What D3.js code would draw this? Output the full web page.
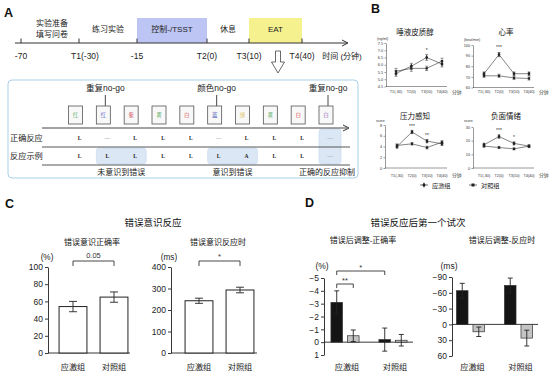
<!DOCTYPE html>
<html><head><meta charset="utf-8">
<script src="https://cdn.jsdelivr.net/npm/d3@7"></script>
<style>
body{margin:0;background:#fff;}
svg{font-family:"Liberation Sans","Noto Sans CJK SC",sans-serif;}
</style></head><body>
<svg id="c" width="554" height="383"></svg>
<script>
// ================= DATA =================
// Panel A: timeline
const timeValues = [-70, -30, -15, 0, 10, 40];
const timeLabels = ["-70", "T1(-30)", "-15", "T2(0)", "T3(10)", "T4(40)"];
const phaseLabels = [["实验准备", "填写问卷"], ["练习实验"], ["控制-/TSST"], ["休息"], ["EAT"]];
const phaseStart = [-70, -30, -15, 0, 10];
const phaseEnd = [-30, -15, 0, 10, 40];
const phaseFill = ["none", "none", "#bcc5f3", "none", "#f5f18f"];
// Panel A: trial sequence
const stimWords = ["红", "红", "紫", "黄", "白", "蓝", "绿", "黄", "白", "白"];
const stimColors = ["#3f9f4f", "#3a3fc4", "#cc2b3a", "#3f9f4f", "#d9363e", "#2d3aa8", "#d8b43a", "#3f9f4f", "#d9363e", "#8256b8"];
const correctResp = ["L", "—", "L", "L", "L", "—", "L", "L", "L", "—"];
const exampleResp = ["L", "L", "L", "L", "L", "L", "A", "L", "L", "—"];
const nogoIndex = [1, 5, 9];
const nogoText = ["重复no-go", "颜色no-go", "重复no-go"];
const hlStart = [1, 5, 9];
const hlEnd = [2, 6, 9];
const hlBothRows = [false, false, true];
const hlCaptions = ["未意识到错误", "意识到错误", "正确的反应抑制"];
const rowLabels = ["正确反应", "反应示例"];

// Panel B
const bTimes = ["T1(-30)", "T2(0)", "T3(10)", "T4(40)"];
const cortStress = [5.4, 5.9, 6.5, 6.05];
const cortStressErr = [0.2, 0.2, 0.2, 0.2];
const cortControl = [5.55, 5.75, 5.75, 6.25];
const cortControlErr = [0.2, 0.2, 0.15, 0.2];
const hrStress = [73, 91, 73, 73];
const hrStressErr = [1.5, 2, 1.5, 1.5];
const hrControl = [71, 71, 69, 68.5];
const hrControlErr = [1.5, 1.5, 1.5, 1.5];
const pressStress = [4.0, 6.7, 5.0, 4.5];
const pressStressErr = [0.3, 0.25, 0.3, 0.3];
const pressControl = [4.2, 4.5, 3.8, 4.8];
const pressControlErr = [0.3, 0.25, 0.25, 0.3];
const negStress = [17, 23, 18, 16];
const negStressErr = [1, 1.2, 1, 0.8];
const negControl = [16, 15, 14, 16];
const negControlErr = [0.8, 0.8, 0.8, 0.8];
const sigCort = ["", "", "*", ""];
const sigHr = ["", "***", "", ""];
const sigPress = ["", "***", "**", ""];
const sigNeg = ["", "***", "*", ""];
const legendLabels = ["应激组", "对照组"];

// Panel C
const groups = ["应激组", "对照组"];
const errAwareAcc = [54, 65];
const errAwareAccErr = [6, 6];
const errAwareRt = [243, 293];
const errAwareRtErr = [12, 13];

// Panel D
const adjAccBlack = [-3.1, -0.2];
const adjAccBlackErr = [0.9, 0.9];
const adjAccGray = [-0.5, -0.15];
const adjAccGrayErr = [0.45, 0.45];
const adjRtBlack = [-64, -74];
const adjRtBlackErr = [14, 14];
const adjRtGray = [14, 26];
const adjRtGrayErr = [9, 15];

// ================= DRAW =================
const svg = d3.select('#c');
function txt(x, y, s, size, o = {}) {
  return svg.append('text').attr('x', x).attr('y', y).text(s).attr('font-size', size)
    .attr('text-anchor', o.anchor || 'middle').attr('dominant-baseline', o.base || 'central')
    .attr('fill', o.fill || '#222').attr('font-weight', o.weight || 'normal')
    .attr('font-family', o.family || null);
}
function line(x1, y1, x2, y2, st = '#333', w = 1) {
  return svg.append('line').attr('x1', x1).attr('y1', y1).attr('x2', x2).attr('y2', y2)
    .attr('stroke', st).attr('stroke-width', w);
}
function arrowHead(x, y) {
  svg.append('path').attr('d', `M${x - 6},${y - 3}L${x},${y}L${x - 6},${y + 3}`)
    .attr('fill', 'none').attr('stroke', '#333').attr('stroke-width', 1);
}

// panel letters
txt(4, 17, 'A', 12.5, { anchor: 'start', base: 'auto', weight: 'bold', fill: '#111' });
txt(371, 13, 'B', 12.5, { anchor: 'start', base: 'auto', weight: 'bold', fill: '#111' });
txt(5, 208, 'C', 12.5, { anchor: 'start', base: 'auto', weight: 'bold', fill: '#111' });
txt(305, 207, 'D', 12.5, { anchor: 'start', base: 'auto', weight: 'bold', fill: '#111' });

// ---- A timeline ----
const tx = d3.scaleLinear().domain(timeValues).range([21, 79, 137, 207, 249, 302]);
phaseStart.forEach((s, i) => {
  const x0 = tx(s), x1 = tx(phaseEnd[i]);
  if (phaseFill[i] !== 'none') {
    svg.append('rect').attr('x', x0).attr('y', 18).attr('width', x1 - x0).attr('height', 25)
      .attr('fill', phaseFill[i]);
  }
  const lab = phaseLabels[i];
  const cx = (x0 + x1) / 2 + (i === 0 ? 2 : 0);
  if (lab.length === 2) {
    txt(cx, 23, lab[0], 8); txt(cx, 34, lab[1], 8);
  } else txt(cx, 29.5, lab[0], 8);
});
line(15, 43, 347, 43, '#333', 1);
arrowHead(348, 43);
timeValues.forEach((v, i) => {
  line(tx(v), 38.5, tx(v), 43, '#333', 1);
  txt(tx(v) + (i === 1 ? 6 : 0), 56, timeLabels[i], 8.5);
});
txt(342, 56, '时间 (分钟)', 8);
// hollow down arrow
svg.append('path').attr('d', 'M275.5,51L280.5,51L280.5,62L284.5,62L278,73L271.5,62L275.5,62Z')
  .attr('fill', '#fff').attr('stroke', '#444').attr('stroke-width', 0.8);

// ---- A trial box ----
svg.append('rect').attr('x', 8).attr('y', 80).attr('width', 350).attr('height', 98).attr('rx', 4)
  .attr('fill', 'none').attr('stroke', '#a9d0e6').attr('stroke-width', 1);
const colX = d3.scalePoint().domain(d3.range(stimWords.length)).range([75.5, 326]);
const respX = i => colX(i) + 4;
// highlights
hlStart.forEach((s, k) => {
  const x0 = respX(s) - 11, x1 = respX(hlEnd[k]) + 11;
  const y0 = hlBothRows[k] ? 129 : 148;
  svg.append('rect').attr('x', x0).attr('y', y0).attr('width', x1 - x0).attr('height', 164 - y0)
    .attr('rx', 3).attr('fill', '#dbe7f4').attr('stroke', '#c4d9ee').attr('stroke-width', 0.6);
  txt((x0 + x1) / 2 - (k === 2 ? 3 : 0), 172, hlCaptions[k], 8);
});
nogoIndex.forEach((i, k) => {
  txt(colX(i) + 2, 87.5, nogoText[k], 8.5);
  line(colX(i) + 2, 95, colX(i) + 2, 106, '#333', 0.9);
});
stimWords.forEach((w, i) => {
  svg.append('rect').attr('x', colX(i) - 7).attr('y', 106).attr('width', 14).attr('height', 18)
    .attr('fill', '#f8f8f8').attr('stroke', '#555').attr('stroke-width', 0.8);
  txt(colX(i), 115, w, 5.5, { fill: stimColors[i], family: '"Noto Serif CJK SC","Noto Sans CJK SC",serif' });
});
line(42, 128, 347, 128, '#444', 1);
arrowHead(349, 128);
txt(10, 138, rowLabels[0], 8.2, { anchor: 'start' });
txt(10, 156, rowLabels[1], 8.2, { anchor: 'start' });
correctResp.forEach((r, i) => txt(respX(i), 138, r, 5.5,
  { fill: r === 'L' ? '#222' : '#aaa', weight: 'bold', family: '"Liberation Serif",serif' }));
exampleResp.forEach((r, i) => txt(respX(i), 156, r, 5.5,
  { fill: r === '—' ? '#aaa' : '#222', weight: 'bold', family: '"Liberation Serif",serif' }));
line(42, 147, 350, 147, '#444', 0.9);
line(42, 165, 350, 165, '#444', 0.9);

// ---- B line plots ----
const bPanels = [
  { title: '唾液皮质醇', unit: '(ng/ml)', s: cortStress, se: cortStressErr, c: cortControl, ce: cortControlErr,
    dom: [4.5, 7.5], ticks: [4.5, 5, 5.5, 6, 6.5, 7, 7.5], fmt: d3.format('.1f'), sig: sigCort,
    ax: 386, top: 43, bot: 86.5, x0: 396, x1: 442, tX: 415, tY: 32, uY: 38.5, lY: 92 },
  { title: '心率', unit: '(beat/min)', s: hrStress, se: hrStressErr, c: hrControl, ce: hrControlErr,
    dom: [60, 100], ticks: [60, 70, 80, 90, 100], fmt: d3.format('d'), sig: sigHr,
    ax: 473, top: 45, bot: 87.5, x0: 484, x1: 529, tX: 506, tY: 32, uY: 39.5, lY: 92 },
  { title: '压力感知', unit: 'score', s: pressStress, se: pressStressErr, c: pressControl, ce: pressControlErr,
    dom: [0, 8], ticks: [0, 2, 4, 6, 8], fmt: d3.format('d'), sig: sigPress,
    ax: 385, top: 125, bot: 168, x0: 397, x1: 442, tX: 415, tY: 116, uY: 121, lY: 175.5 },
  { title: '负面情绪', unit: 'score', s: negStress, se: negStressErr, c: negControl, ce: negControlErr,
    dom: [0, 30], ticks: [0, 10, 20, 30], fmt: d3.format('d'), sig: sigNeg,
    ax: 473, top: 127, bot: 168, x0: 484, x1: 529, tX: 506, tY: 116, uY: 121, lY: 175.5 }
];
const symStress = d3.symbol().type(d3.symbolDiamond).size(7);
const symControl = d3.symbol().type(d3.symbolSquare).size(5);
bPanels.forEach(p => {
  const y = d3.scaleLinear().domain(p.dom).range([p.bot, p.top]);
  const x = d3.scalePoint().domain(bTimes).range([p.x0, p.x1]);
  txt(p.tX, p.tY, p.title, 7.5, { fill: '#111' });
  txt(p.ax - 9, p.uY, p.unit, 3.6, { anchor: 'start', fill: '#333' });
  const ya = svg.append('g').attr('transform', `translate(${p.ax},0)`)
    .call(d3.axisLeft(y).tickValues(p.ticks).tickFormat(p.fmt).tickSize(1.5).tickSizeOuter(0).tickPadding(1.5));
  ya.selectAll('path,line').attr('stroke', '#333').attr('stroke-width', 0.5);
  ya.selectAll('text').attr('font-size', 3.8).attr('fill', '#333');
  line(p.ax, p.bot, p.x1 + 5, p.bot, '#333', 0.5);
  bTimes.forEach(t => txt(x(t), p.lY, t, 3.8, { fill: '#333' }));
  txt(p.x1 + 10, p.lY, '分钟', 4.8, { anchor: 'start', fill: '#333' });
  [[p.c, p.ce, symControl], [p.s, p.se, symStress]].forEach(([vals, errs, sym]) => {
    svg.append('path').datum(vals)
      .attr('d', d3.line().x((d, i) => x(bTimes[i])).y(d => y(d)))
      .attr('fill', 'none').attr('stroke', '#333').attr('stroke-width', 0.6);
    vals.forEach((v, i) => {
      const cx = x(bTimes[i]);
      line(cx, y(v - errs[i]), cx, y(v + errs[i]), '#333', 0.5);
      line(cx - 1.5, y(v - errs[i]), cx + 1.5, y(v - errs[i]), '#333', 0.5);
      line(cx - 1.5, y(v + errs[i]), cx + 1.5, y(v + errs[i]), '#333', 0.5);
      svg.append('path').attr('d', sym()).attr('transform', `translate(${cx},${y(v)})`).attr('fill', '#222');
    });
  });
  p.sig.forEach((s, i) => {
    if (!s) return;
    const top = Math.max(p.s[i] + p.se[i], p.c[i] + p.ce[i]);
    txt(x(bTimes[i]), y(top) - 5, s, 5, { fill: '#333' });
  });
});
// legend
[[symStress, 424, legendLabels[0]], [symControl, 473, legendLabels[1]]].forEach(([sym, lx, lab]) => {
  line(lx - 4, 185, lx + 4, 185, '#333', 0.7);
  svg.append('path').attr('d', sym.size(9)()).attr('transform', `translate(${lx},185)`).attr('fill', '#222');
  txt(lx + 8, 185, lab, 6.2, { anchor: 'start', fill: '#222' });
});

// ---- helpers for bar charts ----
function yAxis(y, ax, ticks, fmt) {
  const g = svg.append('g').attr('transform', `translate(${ax},0)`)
    .call(d3.axisLeft(y).tickValues(ticks).tickFormat(fmt || d3.format('d')).tickSize(3).tickSizeOuter(0).tickPadding(2));
  g.selectAll('path,line').attr('stroke', '#222').attr('stroke-width', 0.9);
  g.selectAll('text').attr('font-size', 8.5).attr('fill', '#222');
  return g;
}
function errBar(cx, yLo, yHi, cap, col = '#222') {
  line(cx, yLo, cx, yHi, col, 0.9);
  line(cx - cap, yLo, cx + cap, yLo, col, 0.9);
  line(cx - cap, yHi, cx + cap, yHi, col, 0.9);
}
function bracket(x0, x1, yb, h, label, ly) {
  svg.append('path').attr('d', `M${x0},${yb + h}L${x0},${yb}L${x1},${yb}L${x1},${yb + h}`)
    .attr('fill', 'none').attr('stroke', '#333').attr('stroke-width', 0.9);
  txt((x0 + x1) / 2, ly, label, 7.5, { fill: '#333' });
}

// ---- C ----
txt(153, 222, '错误意识反应', 9.5, { fill: '#111' });
const cPanels = [
  { title: '错误意识正确率', vals: errAwareAcc, errs: errAwareAccErr, dom: [0, 100], ticks: [0, 20, 40, 60, 80, 100],
    ax: 48, axEnd: 130, band: [52.5, 134.5], unit: '(%)', uX: 47, sig: '0.05', tX: 92 },
  { title: '错误意识反应时', vals: errAwareRt, errs: errAwareRtErr, dom: [0, 400], ticks: [0, 100, 200, 300, 400],
    ax: 171, axEnd: 257, band: [178.5, 260.5], unit: '(ms)', uX: 169, sig: '*', tX: 218 }
];
cPanels.forEach(p => {
  const y = d3.scaleLinear().domain(p.dom).range([353, 267]);
  const x = d3.scaleBand().domain(groups).range(p.band).paddingInner(0.32).paddingOuter(0.16);
  txt(p.tX, 242, p.title, 8, { fill: '#111' });
  txt(p.uX, 257, p.unit, 8.2);
  yAxis(y, p.ax, p.ticks);
  line(p.ax, 353, p.axEnd, 353, '#222', 0.9);
  groups.forEach((g, i) => {
    svg.append('rect').attr('x', x(g)).attr('y', y(p.vals[i])).attr('width', x.bandwidth())
      .attr('height', y(0) - y(p.vals[i])).attr('fill', '#fff').attr('stroke', '#222').attr('stroke-width', 1);
    const cx = x(g) + x.bandwidth() / 2;
    errBar(cx, y(p.vals[i] - p.errs[i]), y(p.vals[i] + p.errs[i]), 4);
    txt(cx, 367, g, 8.2);
  });
  const c0 = x(groups[0]) + x.bandwidth() / 2, c1 = x(groups[1]) + x.bandwidth() / 2;
  bracket(c0, c1, 261, 5, p.sig, p.sig === '*' ? 256 : 255);
});

// ---- D ----
txt(418, 222, '错误反应后第一个试次', 9.5, { fill: '#111' });
const dPanels = [
  { title: '错误后调整-正确率', black: adjAccBlack, blackErr: adjAccBlackErr, gray: adjAccGray, grayErr: adjAccGrayErr,
    dom: [-5, 1], range: [278, 355], ticks: [-5, -4, -3, -2, -1, 0, 1], ax: 324, axEnd: 413,
    band: [321, 417], unit: '(%)', uX: 322, tX: 363 },
  { title: '错误后调整-反应时', black: adjRtBlack, blackErr: adjRtBlackErr, gray: adjRtGray, grayErr: adjRtGrayErr,
    dom: [-90, 60], range: [277, 356], ticks: [-90, -60, -30, 0, 30, 60], ax: 452, axEnd: 538,
    band: [446.5, 542.5], unit: '(ms)', uX: 449, tX: 502 }
];
const subKeys = ['black', 'gray'];
dPanels.forEach((p, pi) => {
  const y = d3.scaleLinear().domain(p.dom).range(p.range);
  const x = d3.scaleBand().domain(groups).range(p.band);
  const xi = d3.scaleBand().domain(subKeys).range([0, x.bandwidth()]).paddingInner(0.3).paddingOuter(0.6);
  txt(p.tX, 240, p.title, 8, { fill: '#111' });
  txt(p.uX, 266, p.unit, 8.5);
  const g = yAxis(y, p.ax, p.ticks);
  line(p.ax, y(0), p.axEnd, y(0), '#222', 0.9);
  const centers = {};
  groups.forEach((gname, i) => {
    subKeys.forEach(k => {
      const v = p[k][i], e = p[k + 'Err'][i];
      const bx = x(gname) + xi(k);
      svg.append('rect').attr('x', bx).attr('y', Math.min(y(0), y(v))).attr('width', xi.bandwidth())
        .attr('height', Math.abs(y(v) - y(0)))
        .attr('fill', k === 'black' ? '#141414' : '#c4c4c4').attr('stroke', '#333').attr('stroke-width', 0.7);
      const cx = bx + xi.bandwidth() / 2;
      centers[k + i] = cx;
      errBar(cx, y(v - e), y(v + e), 2.5, '#222');
    });
    txt(x(gname) + x.bandwidth() / 2 + 2, 367, gname, 8.2);
  });
  if (pi === 0) {
    bracket(centers.black0, centers.black1, 271, 4, '*', 267);
    bracket(centers.black0, centers.gray0, 284, 4, '**', 280);
  }
});
</script>
</body></html>
